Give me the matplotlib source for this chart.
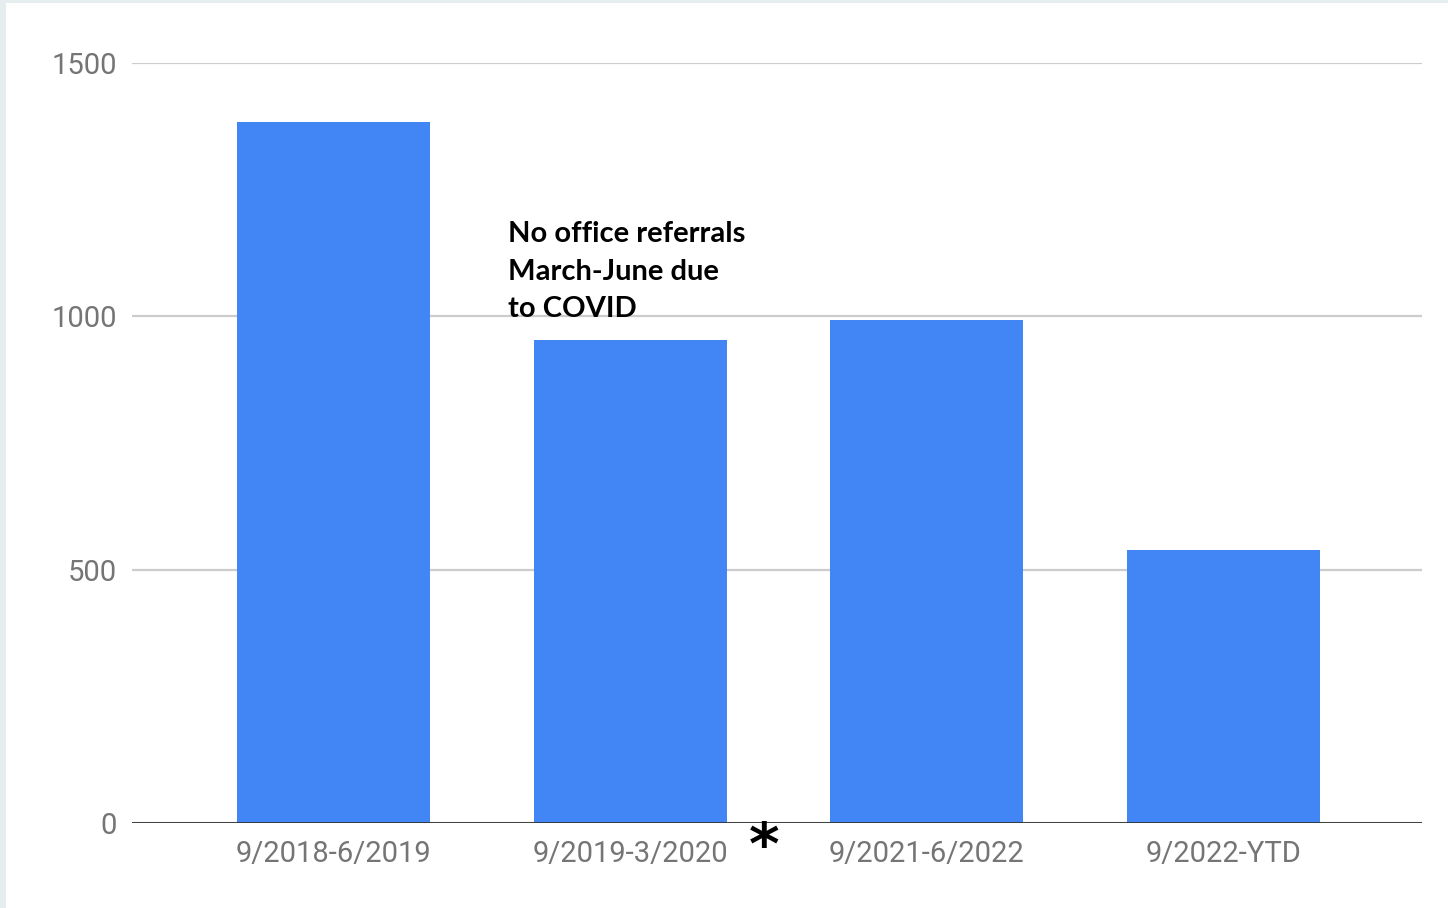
import matplotlib
matplotlib.use("Agg")
import matplotlib.pyplot as plt
from matplotlib.patches import Rectangle

categories = ["9/2018-6/2019", "9/2019-3/2020", "9/2021-6/2022", "9/2022-YTD"]
values = [1383, 953, 993, 539]
yticks = [0, 500, 1000, 1500]
note = "No office referrals\nMarch-June due\nto COVID"

W, H = 1448, 908
fig = plt.figure(figsize=(W / 100, H / 100), dpi=100)
fig.patch.set_facecolor("#e6edef")
fig.patches.append(Rectangle((6 / W, 0), 1, (H - 3) / H, transform=fig.transFigure,
                             facecolor="white", edgecolor="none", zorder=-10))

ax = fig.add_axes([132 / W, (H - 823) / H, (1422 - 132) / W, (823 - 63) / H])
ax.set_facecolor("none")
x = list(range(len(categories)))
ax.bar(x, values, width=0.65, color="#4285f4", zorder=2)
ax.set_xlim(-0.68, 3.67)
ax.set_ylim(0, 1500)
ax.set_yticks(yticks)
ax.set_yticklabels([str(v) for v in yticks])
ax.set_xticks(x)
ax.set_xticklabels(categories)
for s in ["top", "right", "left", "bottom"]:
    ax.spines[s].set_visible(False)
ax.grid(axis="y", color="#cccccc", linewidth=1.6, zorder=0)
ax.set_axisbelow(True)
ax.axhline(0, color="#333333", linewidth=2, zorder=3)
ax.tick_params(axis="both", length=0, labelsize=21, labelcolor="#757575")
ax.tick_params(axis="y", pad=11)
ax.tick_params(axis="x", pad=12)
for lab in ax.get_xticklabels() + ax.get_yticklabels():
    lab.set_fontfamily("Roboto")

fig.text(508 / W, 1 - 221 / H, note, fontsize=21, fontweight="bold", family="Lato",
         color="black", va="top", ha="left", linespacing=1.55, zorder=5)
fig.text(764 / W, 1 - 847 / H, "*", fontsize=42, fontweight="bold", family="DejaVu Sans",
         color="black", va="center", ha="center", zorder=5)

fig.savefig("out.png", dpi=100)
